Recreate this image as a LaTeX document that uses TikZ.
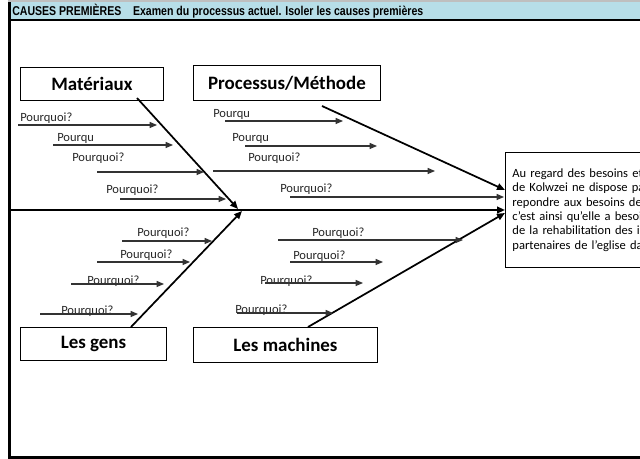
\documentclass[tikz,border=0pt]{standalone}
\usepackage{fontspec}
\setmainfont{Carlito}
\newfontfamily\arialfont{Liberation Sans}
\usetikzlibrary{arrows.meta}
\definecolor{hdrblue}{RGB}{183,222,232}
\begin{document}
\begin{tikzpicture}[x=0.75pt,y=-0.75pt,
  why/.style={font=\fontsize{9.4}{11}\selectfont, anchor=base west, inner sep=0pt, text=black!85},
  cat/.style={draw, line width=0.7pt, anchor=north west, inner sep=0pt,
    font=\fontsize{14.2}{16}\selectfont\bfseries},
  small/.style={line width=0.8pt, draw=black!80, -{Triangle[length=5.5pt,width=4.5pt]}},
  bone/.style={line width=1.3pt, -{Triangle[length=6pt,width=5pt]}},
]
\useasboundingbox (0,0) rectangle (640,459);
\clip (0,0) rectangle (640,459);
\fill[white] (0,0) rectangle (640,459);

% header
\draw[black!25, line width=1.1pt] (8,1) -- (640,1);
\fill[hdrblue] (9,2.5) rectangle (640,19.5);
\node[anchor=base west, inner sep=0pt, font=\arialfont\fontsize{9.6}{10}\selectfont\bfseries] (title) at (12,15.5)
  {\scalebox{0.825}[1]{CAUSES PREMIÈRES\hspace{1.1em}Examen du processus actuel. Isoler les causes premières}};
\draw[line width=1.6pt] (8,20) -- (640,20);
\draw[line width=2.3pt] (9.5,2.5) -- (9.5,458);
\draw[line width=1.6pt] (8,457.5) -- (640,457.5);

% category boxes
\node[cat, minimum width=107.25pt, minimum height=24.75pt] (mat) at (20,67) {Matériaux};
\node[cat, minimum width=140.25pt, minimum height=26.25pt] (proc) at (193,65) {Processus/Méthode};
\node[cat, minimum width=109.5pt, minimum height=24.75pt] (gens) at (20,327) {Les gens};
\node[cat, minimum width=138pt, minimum height=26.25pt] (mach) at (193,327) {Les machines};

% effect box
\node[draw, line width=0.7pt, anchor=north west, inner xsep=5.25pt, inner ysep=0pt,
  minimum height=86.25pt, text width=150pt, align=left,
  font=\fontsize{9.4}{10.8}\selectfont] (effect) at (505,152)
  {Au regard des besoins et\\de Kolwzei ne dispose pa\\repondre aux besoins de\\c'est ainsi qu'elle a besoi\\de la rehabilitation des i\\partenaires de l'eglise da};

% spine and bones
\coordinate (spineL) at (10,210);
\coordinate (spineR) at (505,210);
\draw[line width=1.4pt, -{Triangle[length=6pt,width=5pt]}] (spineL) -- (spineR);
\coordinate (matT) at (137,98);   \coordinate (matH) at (238,209);
\coordinate (procT) at (322,106); \coordinate (procH) at (505,190);
\coordinate (gensT) at (131,327); \coordinate (gensH) at (242,211);
\coordinate (machT) at (308,327); \coordinate (machH) at (505,213);
\draw[bone] (matT) -- (matH);
\draw[bone] (procT) -- (procH);
\draw[bone] (gensT) -- (gensH);
\draw[bone] (machT) -- (machH);

% Matériaux whys
\node[why] (m1) at (20,121.5) {Pourquoi?};
\node[why] (m2) at (57,141.5) {Pourqu};
\node[why] (m3) at (72,161.5) {Pourquoi?};
\node[why] (m4) at (106,193.5) {Pourquoi?};
\coordinate (m1a) at (18,125);  \coordinate (m1b) at (157,125);
\coordinate (m2a) at (53,145);  \coordinate (m2b) at (173,145);
\coordinate (m3a) at (97,172);  \coordinate (m3b) at (204,172);
\coordinate (m4a) at (120,199); \coordinate (m4b) at (226,199);
\draw[small] (m1a) -- (m1b);
\draw[small] (m2a) -- (m2b);
\draw[small] (m3a) -- (m3b);
\draw[small] (m4a) -- (m4b);

% Processus whys
\node[why] (p1) at (213,117.5) {Pourqu};
\node[why] (p2) at (232,141.5) {Pourqu};
\node[why] (p3) at (248,161.5) {Pourquoi?};
\node[why] (p4) at (280,192.5) {Pourquoi?};
\coordinate (p1a) at (225,121); \coordinate (p1b) at (343,121);
\coordinate (p2a) at (245,146); \coordinate (p2b) at (377,146);
\coordinate (p3a) at (213,171); \coordinate (p3b) at (435,171);
\coordinate (p4a) at (290,197); \coordinate (p4b) at (504,197);
\draw[small] (p1a) -- (p1b);
\draw[small] (p2a) -- (p2b);
\draw[small] (p3a) -- (p3b);
\draw[small] (p4a) -- (p4b);

% Les gens whys
\node[why] (g1) at (137,236.5) {Pourquoi?};
\node[why] (g2) at (120,258.5) {Pourquoi?};
\node[why] (g3) at (87,284.5) {Pourquoi?};
\node[why] (g4) at (61,314.5) {Pourquoi?};
\coordinate (g1a) at (122,241); \coordinate (g1b) at (212,241);
\coordinate (g2a) at (97,262);  \coordinate (g2b) at (190,262);
\coordinate (g3a) at (71,284);  \coordinate (g3b) at (164,284);
\coordinate (g4a) at (40,314);  \coordinate (g4b) at (138,314);
\draw[small] (g1a) -- (g1b);
\draw[small] (g2a) -- (g2b);
\draw[small] (g3a) -- (g3b);
\draw[small] (g4a) -- (g4b);

% Les machines whys
\node[why] (c1) at (312,236.5) {Pourquoi?};
\node[why] (c2) at (293,259.5) {Pourquoi?};
\node[why] (c3) at (260,284.5) {Pourquoi?};
\node[why] (c4) at (235,313.5) {Pourquoi?};
\coordinate (c1a) at (278,240); \coordinate (c1b) at (463,240);
\coordinate (c2a) at (290,262); \coordinate (c2b) at (383,262);
\coordinate (c3a) at (265,283); \coordinate (c3b) at (363,283);
\coordinate (c4a) at (237,313); \coordinate (c4b) at (333,313);
\draw[small] (c1a) -- (c1b);
\draw[small] (c2a) -- (c2b);
\draw[small] (c3a) -- (c3b);
\draw[small] (c4a) -- (c4b);
\end{tikzpicture}
\end{document}
